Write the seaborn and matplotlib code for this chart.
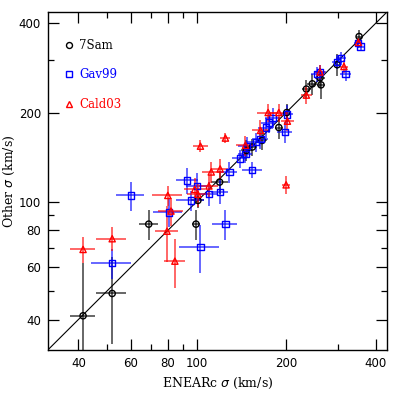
import numpy as np
import pandas as pd
import matplotlib
matplotlib.use("Agg")
import matplotlib.pyplot as plt
import seaborn as sns
from matplotlib.lines import Line2D
from matplotlib.ticker import FixedLocator, NullFormatter, FixedFormatter

# ---- data (km/s) ----
sam_x = [41.5, 52, 69, 99.5, 101, 119.5, 147, 154, 166, 189, 201, 234, 245, 260, 262, 297, 352]
sam_y = [41.2, 49, 84, 84, 101, 116.5, 149, 153, 161, 178, 200, 240, 250, 262, 248, 290, 361]
sam_xerr = [4, 6, 5, 3, 5, 8, 6, 6, 7, 6, 6, 8, 10, 10, 8, 8, 8]
sam_yerr = [21, 16, 10, 10, 6, 10, 12, 10, 12, 15, 14, 18, 20, 20, 25, 25, 20]

gav_x = [60, 52, 80.5, 93, 95.5, 103, 125, 100, 110, 119.5, 129, 154, 148, 158, 164,
         175, 180, 198, 171, 201, 254, 260, 297, 306, 317, 349, 356, 140, 146]
gav_y = [105, 62, 92, 118, 101, 70.5, 84, 113, 106.5, 108, 126, 128, 154, 159, 163,
         185, 192, 172, 178, 197, 270, 274, 297, 305, 270, 343, 334, 140, 145]
gav_xerr = [6.5, 8, 9, 8, 10, 16, 12, 8, 8, 8, 8, 12, 10, 10, 10,
            10, 10, 12, 10, 10, 12, 12, 12, 12, 14, 10, 10, 8, 8]
gav_yerr = [12, 7, 10, 12, 8, 13, 10, 12, 10, 10, 10, 8, 12, 12, 12,
            15, 15, 14, 14, 15, 16, 16, 16, 16, 14, 12, 12, 10, 10]

cal_x = [41.5, 52, 79.5, 84.5, 82, 80, 103, 125, 200, 98.5, 101, 110, 112, 120,
         146, 164, 174, 189, 202, 234, 260, 313, 350]
cal_y = [69, 75, 79.5, 63, 93, 105, 154, 164, 114, 110, 106, 113, 126, 129,
         155, 174, 200, 200, 187, 229, 274, 286, 345]
cal_xerr = [4, 6, 7, 7, 8, 9, 6, 5, 6, 8, 8, 8, 8, 8, 10, 10, 14, 12, 10, 10, 10, 10, 8]
cal_yerr = [7, 7, 17, 12, 10, 8, 7, 6, 8, 10, 10, 10, 10, 10, 12, 14, 14, 14, 14, 15, 15, 15, 12]

series = ["7Sam", "Gav99", "Cald03"]
colors = {"7Sam": "black", "Gav99": "#0000ff", "Cald03": "#ff0000"}
markers = {"7Sam": "o", "Gav99": "s", "Cald03": "^"}

frames = []
for name, x, y, xe, ye in [("7Sam", sam_x, sam_y, sam_xerr, sam_yerr),
                           ("Gav99", gav_x, gav_y, gav_xerr, gav_yerr),
                           ("Cald03", cal_x, cal_y, cal_xerr, cal_yerr)]:
    frames.append(pd.DataFrame({"x": x, "y": y, "xerr": xe, "yerr": ye, "src": name}))
df = pd.concat(frames, ignore_index=True)

sns.set_theme(style="ticks")
plt.rcParams["font.family"] = ["DejaVu Sans"]

fig = plt.figure(figsize=(3.99, 3.99), dpi=100)
ax = fig.add_axes([0.120, 0.123, 0.850, 0.847])

lo, hi = 31.6, 437
ax.set_xscale("log")
ax.set_yscale("log")
ax.set_xlim(lo, hi)
ax.set_ylim(lo, hi)

# one-to-one line
ax.plot([lo, hi], [lo, hi], color="black", lw=0.8, zorder=1)

for name in series:
    d = df[df.src == name]
    ax.errorbar(d.x, d.y, xerr=d.xerr, yerr=d.yerr, fmt="none",
                ecolor=colors[name], elinewidth=1.4, alpha=0.6, capsize=0, zorder=2)

sns.scatterplot(data=df, x="x", y="y", hue="src", style="src",
                palette=colors, markers=markers, hue_order=series, style_order=series,
                s=20, facecolor="none", linewidth=1.0, legend=False, ax=ax, zorder=3)
# make markers open
for coll in ax.collections:
    fc = coll.get_facecolors()
    if len(fc):
        coll.set_edgecolors(fc)
        coll.set_facecolors("none")

ticks = [40, 60, 80, 100, 200, 400]
minor = [50, 70, 90, 300]
for axis in (ax.xaxis, ax.yaxis):
    axis.set_major_locator(FixedLocator(ticks))
    axis.set_major_formatter(FixedFormatter([str(t) for t in ticks]))
    axis.set_minor_locator(FixedLocator(minor))
    axis.set_minor_formatter(NullFormatter())
ax.tick_params(which="both", direction="in", top=True, right=True, colors="black",
               labelsize=8.5, pad=5)
ax.tick_params(which="major", length=8, width=0.9)
ax.tick_params(which="minor", length=4, width=0.9)
for sp in ax.spines.values():
    sp.set_color("black")
    sp.set_linewidth(1.0)

ax.set_xlabel("ENEARc $\\sigma$ (km/s)", family="DejaVu Serif", fontsize=9, color="black")
ax.set_ylabel("Other $\\sigma$ (km/s)", family="DejaVu Serif", fontsize=9, color="black")
ax.yaxis.set_label_coords(-0.092, 0.5)

handles = [Line2D([], [], ls="none", marker=markers[n], mfc="none", mec=colors[n],
                  ms=4.3, mew=1.0) for n in series]
leg = ax.legend(handles, series, loc="upper left", bbox_to_anchor=(0.031, 0.935),
                frameon=False, handletextpad=0.35, labelspacing=1.4, borderaxespad=0.0,
                handlelength=1.0, prop={"family": "DejaVu Serif", "size": 8.5})
for t, n in zip(leg.get_texts(), series):
    t.set_color(colors[n])

fig.savefig("out.png", dpi=100)
